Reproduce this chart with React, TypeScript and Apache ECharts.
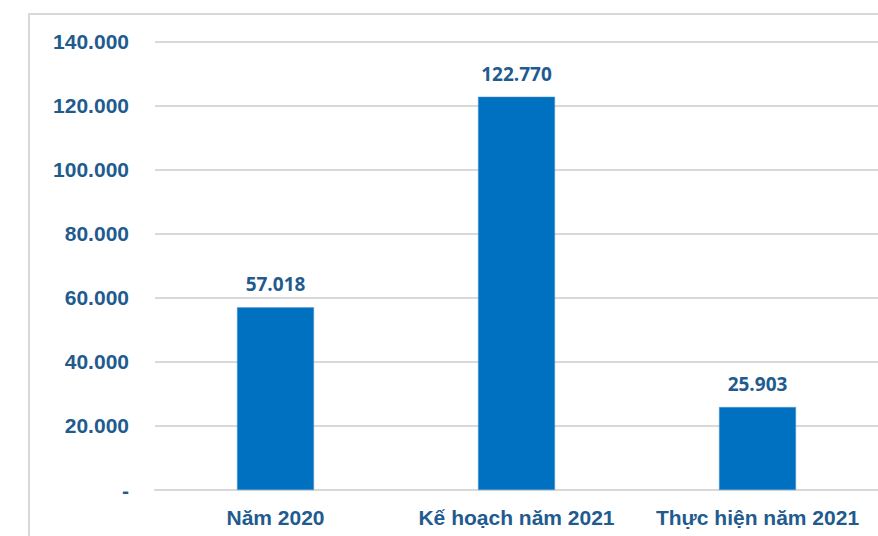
import React, { useEffect, useRef } from "react";
import * as echarts from "echarts";

const categories = ["Năm 2020", "Kế hoạch năm 2021", "Thực hiện năm 2021"];
const values = [57018, 122770, 25903];
const yMax = 140000;
const yStep = 20000;

const textBlue = "#1F5B8F";
const gridGray = "#D9D9D9";

// Vietnamese grouping: dot as thousands separator, dash for zero
const fmt = (v: number) =>
  v === 0 ? "-" : String(Math.round(v)).replace(/\B(?=(\d{3})+(?!\d))/g, ".");

export default function App() {
  const ref = useRef<HTMLDivElement>(null);

  useEffect(() => {
    if (!ref.current) return;
    const chart = echarts.init(ref.current, null, { renderer: "svg" });
    chart.setOption({
      animation: false,
      backgroundColor: "#ffffff",
      graphic: [
        {
          type: "rect",
          shape: { x: 29, y: 14, width: 900, height: 600 },
          style: { fill: "none", stroke: gridGray, lineWidth: 2 },
          silent: true,
        },
      ],
      grid: { left: 155, top: 41.5, width: 732, height: 448.5 },
      xAxis: {
        type: "category",
        data: categories,
        axisLine: { show: true, lineStyle: { color: gridGray, width: 2 } },
        axisTick: { show: false },
        axisLabel: {
          interval: 0,
          hideOverlap: false,
          color: textBlue,
          fontFamily: "Liberation Sans, Arial, sans-serif",
          fontWeight: "bold",
          fontSize: 21,
          lineHeight: 22,
          margin: 16,
        },
      },
      yAxis: {
        type: "value",
        min: 0,
        max: yMax,
        interval: yStep,
        axisLine: { show: false },
        axisTick: { show: false },
        splitLine: { lineStyle: { color: gridGray, width: 2 } },
        axisLabel: {
          color: textBlue,
          fontFamily: "Liberation Sans, Arial, sans-serif",
          fontWeight: "bold",
          fontSize: 21,
          margin: 26,
          formatter: (v: number) => fmt(v),
        },
      },
      series: [
        {
          type: "bar",
          data: values,
          barWidth: 77,
          itemStyle: { color: "#0070C0", borderColor: "#5B9BD5", borderWidth: 0.5 },
          label: {
            show: true,
            position: "top",
            distance: 13,
            color: textBlue,
            fontFamily: "Open Sans, sans-serif",
            fontWeight: "bold",
            fontSize: 19,
            lineHeight: 20,
            formatter: (p: any) => fmt(p.value),
          },
        },
      ],
    });
    return () => chart.dispose();
  }, []);

  return (
    <div
      ref={ref}
      style={{ position: "fixed", left: 0, top: 0, width: 878, height: 536 }}
    />
  );
}
